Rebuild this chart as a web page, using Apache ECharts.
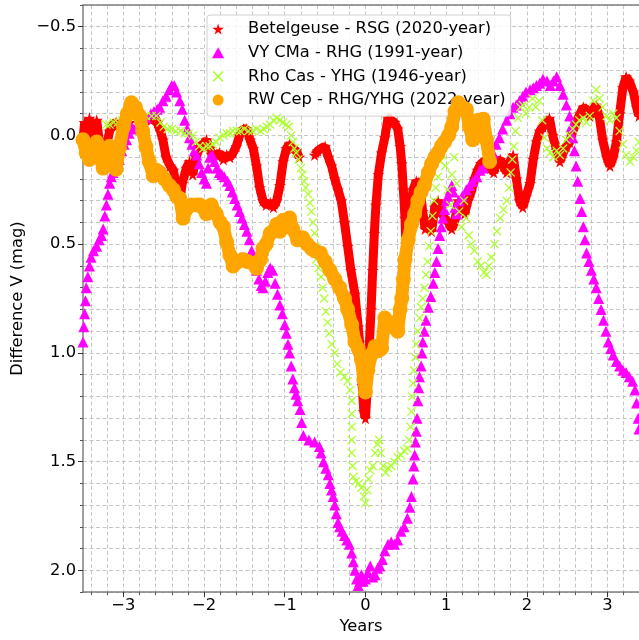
<!DOCTYPE html>
<html>
<head>
<meta charset="utf-8">
<script src="https://cdn.jsdelivr.net/npm/echarts@6/dist/echarts.min.js"></script>
<style>
  html, body { margin: 0; padding: 0; background: #fff; }
  #chart { width: 639px; height: 640px; }
</style>
</head>
<body>
<div id="chart"></div>
<script>
// Betelgeuse (red stars)
const betX = [-3.50,-3.48,-3.45,-3.42,-3.38,-3.33,-3.29,-3.25,-3.21,-3.17,-3.13,-3.09,-3.04,-2.98,-2.92,-2.80,
  -2.66,-2.62,-2.58,-2.54,-2.51,-2.47,-2.42,-2.38,-2.34,-2.30,-2.27,-2.22,-2.18,-2.14,-2.10,-2.05,-2.01,-1.97,-1.93,-1.89,
  -1.85,-1.81,-1.76,-1.72,-1.68,-1.64,-1.60,-1.56,-1.51,-1.47,-1.43,-1.39,-1.35,-1.31,-1.27,-1.23,-1.18,-1.14,-1.10,-1.06,
  -1.02,-0.98,-0.94,-0.90,-0.86,-0.82,-0.72,
  -0.63,-0.59,-0.55,-0.50,-0.46,-0.42,-0.38,-0.34,-0.30,-0.26,-0.22,-0.18,-0.13,-0.09,-0.06,-0.04,-0.02,0.00,0.02,0.03,
  0.05,0.07,0.09,0.11,0.13,0.16,0.20,0.24,0.28,0.32,0.36,0.40,0.43,0.45,0.47,0.49,0.50,0.51,0.53,0.56,0.59,0.63,0.67,
  0.71,0.74,0.78,0.82,0.86,0.90,0.94,0.98,1.03,1.07,1.11,1.15,1.19,1.23,1.27,1.31,1.35,1.39,1.43,1.47,1.51,1.55,1.59,
  1.63,1.67,1.71,1.75,1.79,1.83,1.87,1.91,1.95,1.99,2.04,2.08,2.12,2.16,2.20,2.24,2.28,2.32,2.37,2.41,2.45,2.49,2.53,
  2.57,2.61,2.66,2.70,2.74,2.78,2.82,2.86,2.90,2.94,2.99,3.03,3.07,3.11,3.15,3.19,3.23,3.27,3.32,3.36,3.39];
const betY = [0.02,-0.06,-0.02,-0.08,0.01,-0.07,0.05,0.08,0.05,-0.02,-0.05,-0.06,-0.03,-0.05,-0.06,null,
  -0.07,-0.09,-0.06,-0.02,0.02,0.10,0.14,0.16,0.24,0.30,0.22,0.15,0.12,0.18,0.10,0.05,0.04,0.02,0.06,0.10,
  0.09,0.08,0.11,0.09,0.10,0.08,0.05,0.00,-0.03,-0.03,0.02,0.06,0.14,0.24,0.30,0.32,0.31,0.33,0.30,0.23,
  0.12,0.06,0.04,0.06,0.07,0.10,null,
  0.09,0.07,0.06,0.05,0.10,0.14,0.20,0.25,0.30,0.40,0.51,0.62,0.73,0.88,1.00,1.15,1.27,1.30,1.18,1.10,
  0.95,0.80,0.62,0.45,0.32,0.18,0.08,0.01,-0.08,-0.07,-0.06,-0.03,0.05,0.13,0.25,0.38,0.50,0.58,0.45,0.34,0.25,0.21,0.22,
  0.35,0.43,0.40,0.44,0.33,0.30,0.35,0.38,0.40,0.43,0.39,0.30,0.33,0.36,0.30,0.26,0.20,0.16,0.13,0.12,0.11,0.15,0.17,
  0.12,0.11,0.14,0.17,0.12,0.09,0.20,0.30,0.33,0.28,0.22,0.11,0.03,-0.02,-0.04,-0.06,-0.08,0.00,0.07,0.12,0.08,0.05,0.03,
  -0.02,-0.06,-0.10,-0.13,-0.12,-0.09,-0.12,-0.14,-0.08,0.02,0.10,0.14,0.10,0.03,-0.10,-0.22,-0.27,-0.25,-0.20,-0.13,-0.09];

// VY CMa (magenta triangles)
const vyX = [-3.50,-3.49,-3.48,-3.47,-3.46,-3.44,-3.42,-3.40,-3.37,-3.33,-3.30,-3.27,-3.25,-3.23,-3.21,-3.19,-3.17,-3.15,
  -3.13,-3.10,-3.07,-3.05,-3.02,-2.99,-2.96,-2.93,-2.90,-2.87,-2.80,-2.72,-2.66,-2.62,-2.58,-2.55,-2.51,-2.47,-2.43,-2.40,
  -2.37,-2.34,-2.30,-2.27,-2.24,-2.21,-2.18,-2.15,-2.12,-2.09,-2.06,-2.03,-2.00,-1.97,-1.95,-1.93,-1.90,-1.87,-1.84,-1.81,
  -1.78,-1.75,-1.71,-1.68,-1.65,-1.62,-1.59,-1.56,-1.53,-1.50,-1.47,-1.44,-1.41,-1.38,-1.35,-1.32,-1.29,-1.27,-1.24,-1.21,
  -1.18,-1.15,-1.12,-1.09,-1.06,-1.03,-1.00,-0.98,-0.96,-0.94,-0.92,-0.90,-0.88,-0.86,-0.84,-0.81,-0.79,-0.77,-0.70,-0.63,
  -0.57,-0.55,-0.52,-0.49,-0.46,-0.44,-0.42,-0.40,-0.38,-0.36,-0.34,-0.32,-0.29,-0.26,-0.23,-0.20,-0.17,-0.15,-0.13,-0.11,
  -0.09,-0.07,-0.05,-0.03,0.00,0.03,0.06,0.09,0.12,0.15,0.18,0.21,0.24,0.28,0.32,0.36,0.40,0.44,0.48,0.52,0.55,0.57,0.59,
  0.60,0.61,0.62,0.63,0.64,0.65,0.66,0.67,0.69,0.70,0.71,0.73,0.75,0.78,0.81,0.84,0.86,0.88,0.90,0.92,0.94,0.96,0.98,
  1.00,1.02,1.05,1.07,1.09,1.11,1.13,1.16,1.20,1.25,1.29,1.33,1.38,1.42,1.46,1.50,1.54,1.58,1.62,1.66,1.70,1.75,1.79,
  1.83,1.87,1.91,1.95,1.99,2.04,2.08,2.12,2.16,2.20,2.25,2.29,2.33,2.37,2.41,2.45,2.49,2.53,2.55,2.57,2.59,2.61,2.63,
  2.66,2.68,2.70,2.72,2.74,2.77,2.80,2.83,2.86,2.89,2.92,2.95,2.98,3.01,3.04,3.07,3.11,3.15,3.19,3.23,3.27,3.31,3.34,
  3.36,3.38,3.39];
const vyY = [0.95,0.88,0.82,0.76,0.70,0.65,0.60,0.56,0.53,0.51,0.48,0.46,0.43,0.37,0.32,0.27,0.22,0.19,
  0.17,0.14,0.13,0.11,0.07,0.04,0.02,-0.01,-0.04,-0.03,-0.06,-0.08,-0.10,-0.11,-0.12,-0.13,-0.16,-0.18,-0.21,-0.23,
  -0.23,-0.20,-0.16,-0.12,-0.07,-0.03,0.01,0.04,0.07,0.09,0.13,0.17,0.20,0.22,0.15,0.10,0.09,0.12,0.15,0.17,
  0.18,0.19,0.21,0.23,0.26,0.29,0.32,0.35,0.38,0.41,0.44,0.48,0.53,0.58,0.62,0.66,0.69,0.70,0.67,0.63,
  0.61,0.62,0.68,0.73,0.78,0.82,0.87,0.91,0.96,1.00,1.06,1.12,1.16,1.19,1.22,1.26,1.32,1.38,1.40,1.41,
  1.43,1.46,1.50,1.53,1.56,1.60,1.63,1.66,1.70,1.74,1.78,1.80,1.82,1.84,1.86,1.88,1.92,1.96,2.00,2.04,
  2.07,2.05,2.02,2.05,2.04,2.01,1.98,2.03,2.02,1.99,1.98,1.95,1.91,1.88,1.87,1.88,1.86,1.82,1.80,1.76,1.71,1.66,1.58,
  1.52,1.47,1.41,1.36,1.30,1.22,1.16,1.11,1.06,1.00,0.95,0.90,0.85,0.79,0.74,0.68,0.63,0.58,0.52,0.46,0.42,0.38,0.34,
  0.30,0.28,0.25,0.23,0.26,0.33,0.36,0.30,0.28,0.25,0.23,0.21,0.19,0.16,0.15,0.12,0.10,0.08,0.04,0.01,-0.03,-0.07,-0.10,
  -0.13,-0.14,-0.16,-0.18,-0.20,-0.21,-0.22,-0.23,-0.24,-0.26,-0.25,-0.23,-0.25,-0.27,-0.23,-0.19,-0.14,-0.09,-0.04,0.01,0.07,0.14,0.21,
  0.29,0.35,0.42,0.48,0.54,0.58,0.62,0.66,0.70,0.75,0.80,0.85,0.90,0.95,0.98,1.01,1.04,1.06,1.08,1.09,1.11,1.13,1.17,
  1.23,1.30,1.35];

// Rho Cas (green-yellow crosses)
const rhoX = [-3.21,-3.17,-3.12,-3.07,-3.02,-2.96,-2.90,-2.84,-2.78,-2.72,-2.65,-2.59,-2.54,-2.50,-2.45,-2.40,-2.35,-2.29,
  -2.24,-2.19,-2.14,-2.10,-2.06,-2.01,-1.97,-1.93,-1.89,-1.85,-1.81,-1.76,-1.72,-1.68,-1.64,-1.59,-1.55,-1.50,-1.45,-1.40,
  -1.35,-1.30,-1.26,-1.22,-1.18,-1.14,-1.10,-1.06,-1.02,-0.98,-0.95,-0.92,-0.90,-0.88,-0.86,-0.83,-0.80,-0.78,-0.76,-0.74,
  -0.71,-0.69,-0.67,-0.65,-0.63,-0.62,-0.61,-0.58,-0.55,-0.53,-0.51,-0.49,-0.47,-0.45,-0.42,-0.38,-0.35,-0.31,-0.26,-0.22,
  -0.19,-0.17,-0.17,-0.17,-0.17,-0.17,-0.16,-0.15,-0.12,-0.08,-0.05,-0.02,0.00,0.02,0.04,0.06,0.09,0.12,0.15,0.17,0.19,
  0.22,0.25,0.28,0.32,0.36,0.40,0.44,0.48,0.52,0.54,0.56,0.57,0.58,0.59,0.60,0.62,0.63,0.65,0.67,0.69,0.71,0.73,0.75,
  0.77,0.79,0.81,0.83,0.85,0.87,0.90,0.93,0.96,0.99,1.02,1.05,1.07,1.10,1.13,1.16,1.19,1.22,1.25,1.28,1.31,1.35,1.39,
  1.43,1.47,1.50,1.53,1.56,1.60,1.63,1.67,1.71,1.75,1.78,1.80,1.82,1.84,1.86,1.89,1.92,1.95,1.99,2.03,2.07,2.11,2.15,
  2.19,2.22,2.25,2.29,2.33,2.37,2.41,2.45,2.49,2.53,2.57,2.61,2.65,2.70,2.74,2.78,2.82,2.86,2.90,2.94,2.99,3.03,3.07,
  3.11,3.15,3.19,3.23,3.28,3.32,3.36,3.39];
const rhoY = [-0.05,-0.05,-0.06,-0.06,-0.07,-0.08,-0.09,-0.09,-0.09,-0.09,-0.09,-0.09,-0.06,-0.04,-0.03,-0.03,-0.02,-0.02,
  -0.01,-0.01,0.00,0.03,0.05,0.06,0.05,0.05,0.04,0.03,0.01,0.00,-0.01,-0.01,-0.02,-0.02,-0.02,-0.03,-0.02,-0.02,
  -0.03,-0.02,-0.03,-0.04,-0.05,-0.07,-0.08,-0.07,-0.06,-0.05,-0.04,0.00,0.03,0.06,0.08,0.11,0.15,0.18,0.21,0.24,
  0.27,0.31,0.35,0.40,0.45,0.51,0.57,0.61,0.65,0.70,0.75,0.81,0.86,0.91,0.96,1.00,1.05,1.09,1.11,1.13,
  1.17,1.22,1.28,1.34,1.40,1.46,1.52,1.57,1.59,1.60,1.62,1.66,1.69,1.63,1.58,1.54,1.52,1.46,1.42,1.40,1.46,
  1.52,1.55,1.53,1.52,1.50,1.48,1.47,1.45,1.44,1.40,1.34,1.27,1.20,1.14,1.08,1.02,0.96,0.90,0.84,0.79,0.75,0.70,0.64,
  0.58,0.51,0.44,0.37,0.30,0.24,0.19,0.12,0.09,0.14,0.25,0.32,0.18,0.10,0.22,0.35,0.42,0.30,0.38,0.46,0.50,0.53,0.58,
  0.60,0.63,0.64,0.60,0.56,0.50,0.44,0.38,0.34,0.30,0.24,0.17,0.11,0.05,-0.02,-0.08,-0.13,-0.14,-0.10,-0.13,-0.17,-0.13,-0.16,
  -0.07,0.01,0.06,0.08,0.10,0.07,0.09,0.06,0.02,0.00,-0.03,-0.05,-0.07,-0.08,-0.06,-0.09,-0.16,-0.21,-0.17,-0.13,-0.09,-0.07,-0.10,
  -0.08,-0.02,0.04,0.09,0.12,0.10,0.07,0.03];

// RW Cep (orange circles)
const rwX = [-3.50,-3.46,-3.42,-3.38,-3.33,-3.29,-3.25,-3.21,-3.17,-3.13,-3.09,-3.05,-3.00,-2.95,-2.90,-2.85,-2.80,-2.76,
  -2.72,-2.68,-2.63,-2.59,-2.55,-2.49,-2.43,-2.38,-2.34,-2.30,-2.26,-2.22,-2.16,-2.09,-2.05,-1.97,-1.91,-1.85,-1.80,-1.76,
  -1.72,-1.68,-1.64,-1.58,-1.52,-1.46,-1.39,-1.35,-1.30,-1.27,-1.23,-1.18,-1.14,-1.10,-1.06,-1.02,-0.98,-0.94,-0.90,-0.84,
  -0.78,-0.72,-0.67,-0.63,-0.56,-0.50,-0.44,-0.38,-0.32,-0.26,-0.22,-0.17,-0.13,-0.09,-0.05,-0.02,0.00,0.03,0.07,0.12,
  0.16,0.20,0.24,0.28,0.33,0.37,0.40,0.43,0.45,0.47,0.49,0.53,0.57,0.61,0.65,0.69,0.73,0.78,0.82,0.86,0.90,0.94,0.98,
  1.03,1.07,1.11,1.15,1.20,1.25,1.29,1.33,1.36,1.40,1.46,1.50,1.54];
const rwY = [0.02,0.08,0.11,0.05,0.03,0.10,0.15,0.09,0.05,0.10,0.155,0.06,-0.04,-0.10,-0.15,-0.13,-0.09,-0.02,
  0.05,0.12,0.185,0.16,0.17,0.20,0.23,0.25,0.28,0.29,0.38,0.34,0.32,0.32,0.32,0.36,0.32,0.36,0.40,0.42,
  0.49,0.55,0.60,0.58,0.57,0.58,0.59,0.61,0.57,0.52,0.50,0.45,0.44,0.41,0.44,0.39,0.40,0.38,0.43,0.48,
  0.47,0.50,0.52,0.53,0.54,0.58,0.62,0.66,0.70,0.75,0.80,0.87,0.95,0.98,1.03,1.12,1.18,1.08,1.01,0.97,
  0.99,0.98,0.84,0.87,0.88,0.86,0.90,0.80,0.75,0.66,0.57,0.48,0.41,0.36,0.30,0.26,0.23,0.17,0.13,0.10,0.08,0.05,0.03,
  0.00,-0.04,-0.11,-0.15,-0.13,-0.12,-0.04,0.02,-0.03,-0.07,-0.075,0.02,0.12];

const seriesNames = ['Betelgeuse - RSG (2020-year)', 'VY CMa - RHG (1991-year)', 'Rho Cas - YHG (1946-year)', 'RW Cep - RHG/YHG (2022-year)'];
const xMajor = [-3, -2, -1, 0, 1, 2, 3];
const yMajor = [-0.5, 0, 0.5, 1, 1.5, 2];

const STAR = 'path://M50,0 L61,35 L98,35 L68,57 L79,91 L50,70 L21,91 L32,57 L2,35 L39,35 Z';
const CROSS = 'path://M1,0 L5,4 L9,0 L10,1 L6,5 L10,9 L9,10 L5,6 L1,10 L0,9 L4,5 L0,1 Z';
const TRI = 'path://M5,0 L10,9 L0,9 Z';

function pairs(xs, ys) {
  return xs.map((x, i) => [x, ys[i]]);
}

const xMinor = [];
for (let v = -3.4; v < 3.4; v += 0.2) xMinor.push(Math.round(v * 10) / 10);

const fmt = v => String(Math.round(v)).replace('-', '\u2212');
const fmtY = v => v.toFixed(1).replace('-', '\u2212');

const font = 'DejaVu Sans';
const fs = 16.3;
const axisGrey = '#7f7f7f';
const gridLine = { type: [4, 2.5], color: '#c0c0c0', width: 0.9 };
const noZero = { onZero: false };

const chart = echarts.init(document.getElementById('chart'));
chart.setOption({
  animation: false,
  backgroundColor: '#fff',
  textStyle: { fontFamily: font },
  grid: { left: 83, top: 5, right: 0, bottom: 45 },
  legend: {
    orient: 'vertical',
    left: 207, top: 15,
    padding: [6, 5, 8, 5],
    itemGap: 7.7,
    itemWidth: 36, itemHeight: 11,
    backgroundColor: 'rgba(255,255,255,0.8)',
    borderColor: '#d0d0d0', borderWidth: 1, borderRadius: 3,
    textStyle: { fontFamily: font, fontSize: fs, color: '#000', padding: [0, 0, 0, 7] },
    data: [
      { name: seriesNames[0], icon: STAR },
      { name: seriesNames[1], icon: TRI },
      { name: seriesNames[2], icon: CROSS },
      { name: seriesNames[3], icon: 'circle' }
    ]
  },
  xAxis: [
    {
      // gridlines every 0.2 (odd tenths blanked)
      type: 'value', min: -3.5, max: 3.39, interval: 0.1,
      axisLine: Object.assign({ show: true, lineStyle: { color: axisGrey, width: 1.5 } }, noZero),
      axisTick: { show: false },
      axisLabel: { show: false },
      splitLine: { show: true, lineStyle: Object.assign({}, gridLine, { color: ['rgba(0,0,0,0)', '#c0c0c0'] }) }
    },
    {
      type: 'value', min: -3.5, max: 3.39, position: 'bottom',
      axisLine: { show: false, onZero: false },
      axisTick: { show: true, length: 3, customValues: xMinor, lineStyle: { color: '#555' } },
      axisLabel: { show: false },
      splitLine: { show: false }
    },
    {
      type: 'value', min: -3.5, max: 3.39, position: 'bottom',
      name: 'Years', nameLocation: 'middle', nameGap: 25,
      nameTextStyle: { fontFamily: font, fontSize: fs, color: '#000' },
      axisLine: { show: false, onZero: false },
      axisTick: { show: true, length: 5, customValues: xMajor, lineStyle: { color: '#333' } },
      axisLabel: { show: true, customValues: xMajor, formatter: fmt, margin: 6,
        fontFamily: font, fontSize: fs, color: '#000' },
      splitLine: { show: false }
    },
    {
      type: 'value', min: -3.5, max: 3.39, position: 'top',
      axisLine: Object.assign({ show: true, lineStyle: { color: axisGrey, width: 1.5 } }, noZero),
      axisTick: { show: false }, axisLabel: { show: false }, splitLine: { show: false }
    }
  ],
  yAxis: [
    {
      type: 'value', inverse: true, min: -0.6, max: 2.1, interval: 0.1,
      axisLine: Object.assign({ show: true, lineStyle: { color: axisGrey, width: 1.5 } }, noZero),
      axisTick: { show: true, length: 3, lineStyle: { color: '#555' } },
      axisLabel: { show: false },
      splitLine: { show: true, lineStyle: gridLine }
    },
    {
      type: 'value', inverse: true, min: -0.6, max: 2.1, position: 'left',
      name: 'Difference V (mag)', nameLocation: 'middle', nameGap: 56, nameRotate: 90,
      nameTextStyle: { fontFamily: font, fontSize: fs, color: '#000' },
      axisLine: { show: false, onZero: false },
      axisTick: { show: true, length: 5, customValues: yMajor, lineStyle: { color: '#333' } },
      axisLabel: { show: true, customValues: yMajor, formatter: fmtY, margin: 7,
        fontFamily: font, fontSize: fs, color: '#000' },
      splitLine: { show: false }
    }
  ],
  series: [
    {
      name: seriesNames[0], type: 'line', data: pairs(betX, betY),
      color: '#ff0000',
      symbol: STAR, symbolSize: 12, showAllSymbol: true,
      lineStyle: { width: 9, color: '#ff0000' },
      itemStyle: { color: '#ff0000' },
      connectNulls: false, clip: true, z: 2
    },
    {
      name: seriesNames[1], type: 'scatter', data: pairs(vyX, vyY),
      color: '#ff00ff',
      symbol: 'triangle', symbolSize: 11,
      itemStyle: { color: '#ff00ff', opacity: 1 }, clip: true, z: 3
    },
    {
      name: seriesNames[2], type: 'scatter', data: pairs(rhoX, rhoY),
      color: '#adff2f',
      symbol: CROSS, symbolSize: 9,
      itemStyle: { color: '#adff2f', opacity: 1 }, clip: true, z: 4
    },
    {
      name: seriesNames[3], type: 'line', data: pairs(rwX, rwY),
      color: '#ffa500',
      symbol: 'circle', symbolSize: 15, showAllSymbol: true,
      lineStyle: { width: 13, color: '#ffa500' },
      itemStyle: { color: '#ffa500' }, clip: true, z: 5
    }
  ]
});
</script>
</body>
</html>
